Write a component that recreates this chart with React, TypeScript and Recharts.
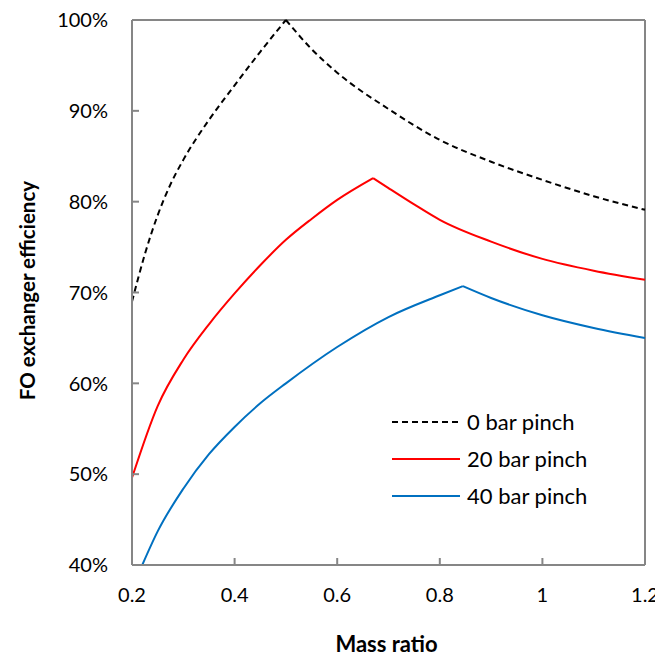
import React from 'react';
import { LineChart, Line, XAxis, YAxis, ReferenceLine } from 'recharts';

// mass ratio / efficiency (%); each curve split at its peak
const bar0RiseX = [0.2, 0.225, 0.25, 0.275, 0.3, 0.35, 0.4, 0.45, 0.5];
const bar0RiseY = [69.0, 74.2, 78.5, 81.9, 84.6, 89.0, 92.8, 96.5, 100];
const bar0FallX = [0.5, 0.55, 0.6, 0.7, 0.8, 0.9, 1.0, 1.1, 1.2];
const bar0FallY = [100, 96.8, 94.2, 90.2, 86.8, 84.4, 82.4, 80.6, 79.1];

const bar20RiseX = [0.2, 0.25, 0.3, 0.35, 0.4, 0.45, 0.5, 0.55, 0.6, 0.67];
const bar20RiseY = [49.6, 57.5, 62.6, 66.5, 69.9, 73.0, 75.8, 78.1, 80.2, 82.6];
const bar20FallX = [0.67, 0.7, 0.75, 0.8, 0.9, 1.0, 1.1, 1.2];
const bar20FallY = [82.6, 81.5, 79.7, 78.0, 75.6, 73.7, 72.4, 71.4];

const bar40RiseX = [0.22, 0.25, 0.3, 0.35, 0.4, 0.45, 0.5, 0.6, 0.7, 0.8, 0.845];
const bar40RiseY = [40, 43.7, 48.4, 52.2, 55.2, 57.8, 60.0, 64.0, 67.3, 69.7, 70.7];
const bar40FallX = [0.845, 0.9, 1.0, 1.1, 1.2];
const bar40FallY = [70.7, 69.4, 67.5, 66.1, 65.0];

const seriesNames = ['0 bar pinch', '20 bar pinch', '40 bar pinch'];
const seriesColors = ['#000000', '#ff0000', '#0070c0'];
const seriesDash = ['6 4', undefined, undefined];

const xTicks = [0.2, 0.4, 0.6, 0.8, 1, 1.2];
const yTicks = [40, 50, 60, 70, 80, 90, 100];

const zip = (xs: number[], ys: number[]) => xs.map((x, i) => ({ x, y: ys[i] }));

const segments = [
  { data: zip(bar0RiseX, bar0RiseY), s: 0 },
  { data: zip(bar0FallX, bar0FallY), s: 0 },
  { data: zip(bar20RiseX, bar20RiseY), s: 1 },
  { data: zip(bar20FallX, bar20FallY), s: 1 },
  { data: zip(bar40RiseX, bar40RiseY), s: 2 },
  { data: zip(bar40FallX, bar40FallY), s: 2 },
];

const FONT = 'Lato, "Open Sans", sans-serif';
const AXIS = '#868686';
const TICK_SIZE = 8;
const TICK_MARGIN = 16;

const YTick = (props: any) => {
  const { x, y, payload } = props;
  const ax = x + TICK_SIZE + TICK_MARGIN;
  return (
    <g>
      <line x1={ax} x2={ax + 7} y1={y} y2={y} stroke={AXIS} strokeWidth={2} />
      <text x={x} y={y} dy="0.36em" textAnchor="end" fontSize={20} fill="#000" fontFamily={FONT}>
        {payload.value}%
      </text>
    </g>
  );
};

const XTick = (props: any) => {
  const { x, y, payload } = props;
  const ay = y - TICK_SIZE - 15;
  return (
    <g>
      <line x1={x} x2={x} y1={ay} y2={ay - 7} stroke={AXIS} strokeWidth={2} />
      <text x={x} y={y} dy="0.72em" textAnchor="middle" fontSize={20} fill="#000" fontFamily={FONT}>
        {String(payload.value)}
      </text>
    </g>
  );
};

export default function App() {
  return (
    <div style={{ position: 'relative', width: 655, height: 650 }}>
      <LineChart width={655} height={650} margin={{ top: 12, right: 18, bottom: 23, left: 4 }}>
        <XAxis
          type="number"
          dataKey="x"
          domain={[0.2, 1.2]}
          ticks={xTicks}
          height={70}
          tickSize={TICK_SIZE}
          tickMargin={15}
          tickLine={false}
          axisLine={{ stroke: AXIS, strokeWidth: 2 }}
          tick={XTick}
          label={{
            content: ({ viewBox }: any) => (
              <text
                x={viewBox.x + viewBox.width / 2 - 2}
                y={viewBox.y + 87}
                textAnchor="middle"
                fontSize={22}
                fontWeight="bold"
                fontFamily={FONT}
              >
                Mass ratio
              </text>
            ),
          }}
        />
        <YAxis
          type="number"
          domain={[40, 100]}
          ticks={yTicks}
          width={120}
          tickSize={TICK_SIZE}
          tickMargin={TICK_MARGIN}
          tickLine={false}
          axisLine={{ stroke: AXIS, strokeWidth: 2 }}
          tick={YTick}
          label={{
            content: ({ viewBox }: any) => {
              const cx = viewBox.x + 15;
              const cy = viewBox.y + viewBox.height / 2 - 2;
              return (
                <text
                  x={cx}
                  y={cy}
                  transform={`rotate(-90 ${cx} ${cy})`}
                  textAnchor="middle"
                  dominantBaseline="central"
                  fontSize={20.5}
                  fontWeight="bold"
                  fontFamily={FONT}
                >
                  FO exchanger efficiency
                </text>
              );
            },
          }}
        />
        <ReferenceLine y={100} stroke={AXIS} strokeWidth={2} />
        <ReferenceLine x={1.2} stroke={AXIS} strokeWidth={2} />
        {segments.map((seg, i) => (
          <Line
            key={i}
            data={seg.data}
            dataKey="y"
            type="monotone"
            stroke={seriesColors[seg.s]}
            strokeWidth={2}
            strokeDasharray={seriesDash[seg.s]}
            dot={false}
            activeDot={false}
            isAnimationActive={false}
          />
        ))}
      </LineChart>
      <svg
        width={240}
        height={110}
        style={{ position: 'absolute', left: 380, top: 395, overflow: 'visible' }}
      >
        {seriesNames.map((name, i) => (
          <g key={name}>
            <line
              x1={4}
              x2={72}
              y1={19 + i * 37}
              y2={19 + i * 37}
              stroke={seriesColors[i]}
              strokeWidth={2}
              strokeDasharray={seriesDash[i]}
            />
            <text x={79} y={19 + i * 37} dy="0.36em" fontSize={22} fontFamily={FONT} fill="#000">
              {name}
            </text>
          </g>
        ))}
      </svg>
    </div>
  );
}
